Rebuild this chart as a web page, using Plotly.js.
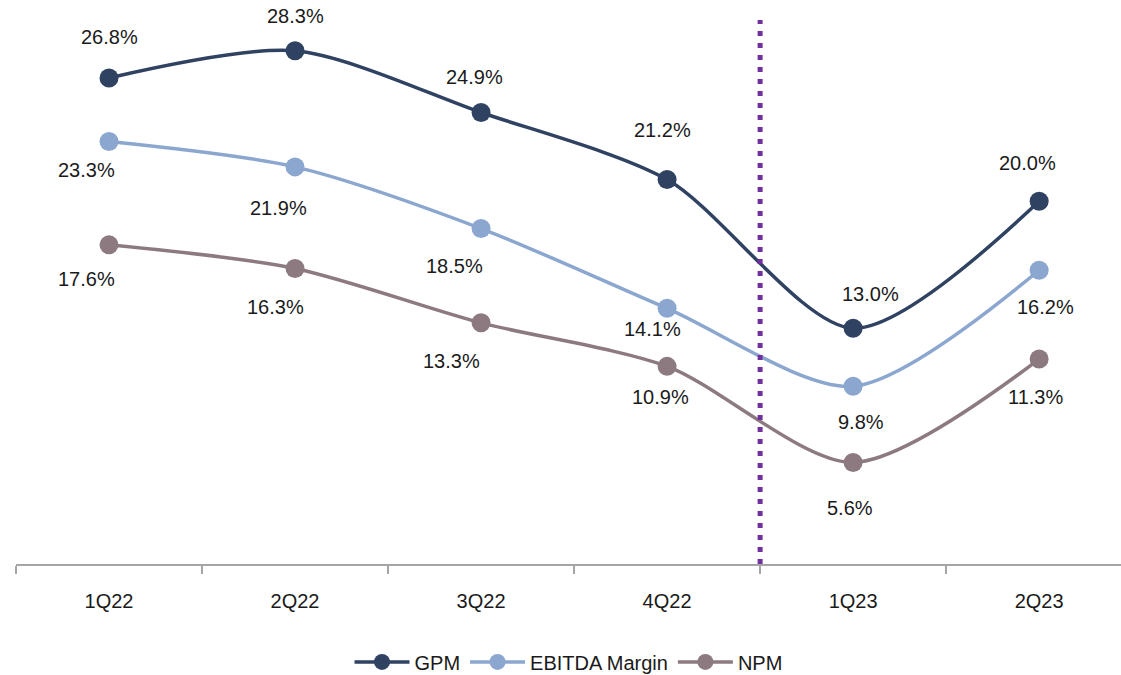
<!DOCTYPE html>
<html><head><meta charset="utf-8">
<script src="https://cdn.plot.ly/plotly-3.0.1.min.js"></script>
<style>html,body{margin:0;padding:0;background:#fff}#chart{width:1121px;height:675px}</style>
</head><body><div id="chart"></div>
<script>
const categories = ["1Q22","2Q22","3Q22","4Q22","1Q23","2Q23"];
const gpm = [26.8, 28.3, 24.9, 21.2, 13.0, 20.0];
const ebitda = [23.3, 21.9, 18.5, 14.1, 9.8, 16.2];
const npm = [17.6, 16.3, 13.3, 10.9, 5.6, 11.3];

// label offsets in pixels [dx, dy] (layout only)
const gpmOff = [[0,-41],[0,-35],[-7,-35],[-5,-50],[17,-34],[-12,-38]];
const ebitdaOff = [[-23,29],[-17,41],[-27,37],[-15,21],[8,36],[6,37]];
const npmOff = [[-23,34],[-20,39],[-30,38],[-7,31],[-3,46],[-4,38]];

const colors = {gpm:"#2F4261", ebitda:"#8BA7CF", npm:"#8D7A80"};
const FONT = "Liberation Sans, Arial, sans-serif";

function tr(name, y, c){
  return {x: categories, y: y, name: name, type:"scatter", mode:"lines+markers",
    line:{color:c, width:3.5, shape:"spline", smoothing:0.8},
    marker:{color:c, size:19}, hoverinfo:"x+y"};
}
const data = [tr("GPM", gpm, colors.gpm), tr("EBITDA Margin", ebitda, colors.ebitda), tr("NPM", npm, colors.npm)];

const annotations = [];
function addLabels(y, off){
  y.forEach((v,i)=>{
    annotations.push({x: categories[i], y: v, xref:"x", yref:"y", text: v.toFixed(1)+"%",
      showarrow:false, xshift: off[i][0], yshift: -off[i][1],
      font:{family:FONT, size:20, color:"#1a1a1a"}});
  });
}
addLabels(gpm, gpmOff); addLabels(ebitda, ebitdaOff); addLabels(npm, npmOff);

const layout = {
  width:1121, height:675,
  margin:{l:16, r:0, t:20, b:111, autoexpand:false},
  paper_bgcolor:"#fff", plot_bgcolor:"#fff",
  showlegend:true,
  legend:{orientation:"h", x:0.5, xanchor:"center", y:-0.18, yanchor:"middle",
    font:{family:FONT, size:20, color:"#1a1a1a"}, itemwidth:55, tracegroupgap:0},
  xaxis:{type:"category", range:[-0.5, 5.44], tickson:"boundaries", ticks:"outside", ticklen:8,
    tickcolor:"#A6A6A6", tickwidth:1.5, showline:true, linecolor:"#A6A6A6", linewidth:1.5,
    showgrid:false, zeroline:false, fixedrange:true, ticklabelstandoff:18,
    tickfont:{family:FONT, size:20, color:"#1a1a1a"}},
  yaxis:{range:[0,30], visible:false, showgrid:false, zeroline:false, fixedrange:true},
  shapes:[{type:"line", xref:"x", yref:"paper", x0:3.5, x1:3.5, y0:0, y1:1.0,
    line:{color:"#7030A0", width:5, dash:"5px,7px"}}],
  annotations: annotations
};
Plotly.newPlot("chart", data, layout, {displayModeBar:false, staticPlot:true});
</script></body></html>
